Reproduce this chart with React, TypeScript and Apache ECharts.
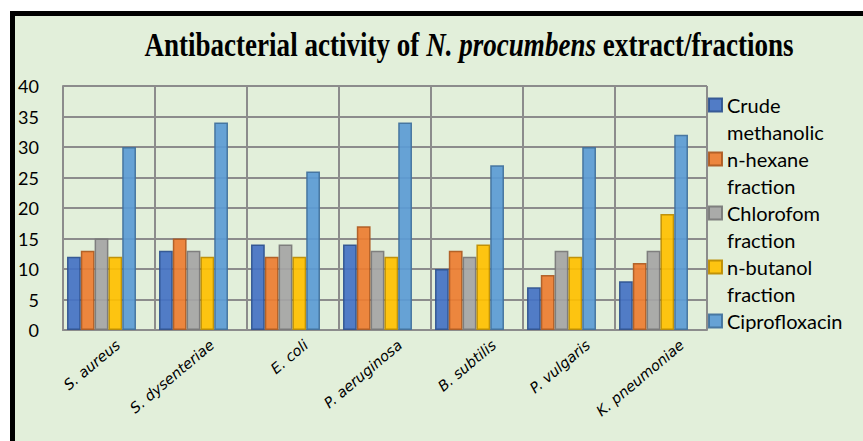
import React, { useEffect, useRef } from "react";
import * as echarts from "echarts";

const categories = [
  "S. aureus",
  "S. dysenteriae",
  "E. coli",
  "P. aeruginosa",
  "B. subtilis",
  "P. vulgaris",
  "K. pneumoniae",
];
const seriesNames = [
  "Crude methanolic",
  "n-hexane fraction",
  "Chlorofom fraction",
  "n-butanol fraction",
  "Ciprofloxacin",
];
const legendLabels = [
  "Crude\nmethanolic",
  "n-hexane\nfraction",
  "Chlorofom\nfraction",
  "n-butanol\nfraction",
  "Ciprofloxacin",
];
const crudeMethanolic = [12, 13, 14, 14, 10, 7, 8];
const nHexane = [13, 15, 12, 17, 13, 9, 11];
const chloroform = [15, 13, 14, 13, 12, 13, 13];
const nButanol = [12, 12, 12, 12, 14, 12, 19];
const ciprofloxacin = [30, 34, 26, 34, 27, 30, 32];
const yTicks = { min: 0, max: 40, interval: 5 };
const titleParts = ["Antibacterial activity of ", "N. procumbens", " extract/fractions"];

const fills = ["#4472c4", "#ed7d31", "#a5a5a5", "#ffc000", "#5b9bd5"];
const borders = ["#2f528f", "#ae5a21", "#787878", "#bc8c00", "#41719c"];

export default function App() {
  const ref = useRef<HTMLDivElement>(null);
  useEffect(() => {
    document.body.style.margin = "0";
    if (!ref.current) return;
    const chart = echarts.init(ref.current, undefined, { renderer: "svg" });
    const values = [crudeMethanolic, nHexane, chloroform, nButanol, ciprofloxacin];
    const gridColor = "#8c8c8c";
    const titleFont = { fontFamily: "Liberation Serif", fontWeight: "bold", fontSize: 33, fill: "#000", color: "#000" };
    chart.setOption({
      animation: false,
      backgroundColor: "transparent",
      graphic: [
        {
          type: "text",
          x: 469,
          y: 45,
          scaleX: 0.82,
          silent: true,
          style: {
            text: `{a|${titleParts[0]}}{b|${titleParts[1]}}{a|${titleParts[2]}}`,
            rich: {
              a: { ...titleFont },
              b: { ...titleFont, fontStyle: "italic" },
            },
            align: "center",
            verticalAlign: "middle",
            textAlign: "center",
            textVerticalAlign: "middle",
          },
        },
      ],
      legend: {
        orient: "vertical",
        left: 708,
        top: 64.5,
        padding: 0,
        itemGap: -27,
        itemWidth: 13,
        itemHeight: 13,
        icon: "rect",
        data: seriesNames,
        formatter: (name: string) => {
          const label = legendLabels[seriesNames.indexOf(name)];
          return label.indexOf("\n") >= 0 ? "\n" + label : "\n" + label + "\n ";
        },
        textStyle: {
          fontFamily: "Lato",
          fontSize: 20,
          lineHeight: 27,
          color: "#000",
        },
      },
      grid: [
        { left: 63, right: 156, top: 86, bottom: 111 },
        { left: 55.5, right: 163.5, top: 86, bottom: 111 },
        { left: 71, right: 134, top: 86, bottom: 111 },
      ],
      xAxis: [
        {
          type: "category",
          gridIndex: 0,
          data: categories,
          boundaryGap: true,
          axisLine: { show: true, lineStyle: { color: gridColor, width: 2 } },
          axisTick: { show: false, interval: 0 },
          splitLine: { show: true, interval: 0, lineStyle: { color: gridColor, width: 2 } },
          axisLabel: { show: false, interval: 0 },
        },
        {
          type: "category",
          gridIndex: 1,
          data: categories,
          show: false,
        },
        {
          type: "category",
          gridIndex: 2,
          data: categories,
          axisLine: { show: false },
          axisTick: { show: false },
          splitLine: { show: false },
          axisLabel: {
            interval: 0,
            rotate: 40,
            margin: 13,
            fontFamily: "DejaVu Sans",
            fontStyle: "italic",
            fontSize: 14.5,
            color: "#000",
          },
        },
      ],
      yAxis: [
        {
          type: "value",
          gridIndex: 0,
          min: yTicks.min,
          max: yTicks.max,
          interval: yTicks.interval,
          axisLine: { show: true, lineStyle: { color: gridColor, width: 2 } },
          axisTick: { show: false },
          splitLine: { show: true, lineStyle: { color: gridColor, width: 2 } },
          axisLabel: { margin: 24, fontFamily: "Lato", fontSize: 18, color: "#000" },
        },
        {
          type: "value",
          gridIndex: 1,
          min: yTicks.min,
          max: yTicks.max,
          interval: yTicks.interval,
          show: false,
        },
        {
          type: "value",
          gridIndex: 2,
          min: yTicks.min,
          max: yTicks.max,
          interval: yTicks.interval,
          show: false,
        },
      ],
      series: seriesNames.map((name, i) => ({
        name,
        type: "bar",
        xAxisIndex: 1,
        yAxisIndex: 1,
        data: values[i],
        barGap: "0%",
        barCategoryGap: "25%",
        itemStyle: { color: fills[i], borderColor: borders[i], borderWidth: 1.5, opacity: 0.92 },
      })),
    });
    return () => chart.dispose();
  }, []);
  return (
    <div style={{ position: "relative", width: 863, height: 441, background: "#fff", overflow: "hidden" }}>
      <div
        style={{
          position: "absolute",
          left: 10,
          top: 11,
          width: 853,
          height: 430,
          boxSizing: "border-box",
          background: "#e2efda",
          borderLeft: "5px solid #000",
          borderTop: "5px solid #000",
        }}
      />
      <div ref={ref} style={{ position: "absolute", left: 0, top: 0, width: 863, height: 441 }} />
    </div>
  );
}
